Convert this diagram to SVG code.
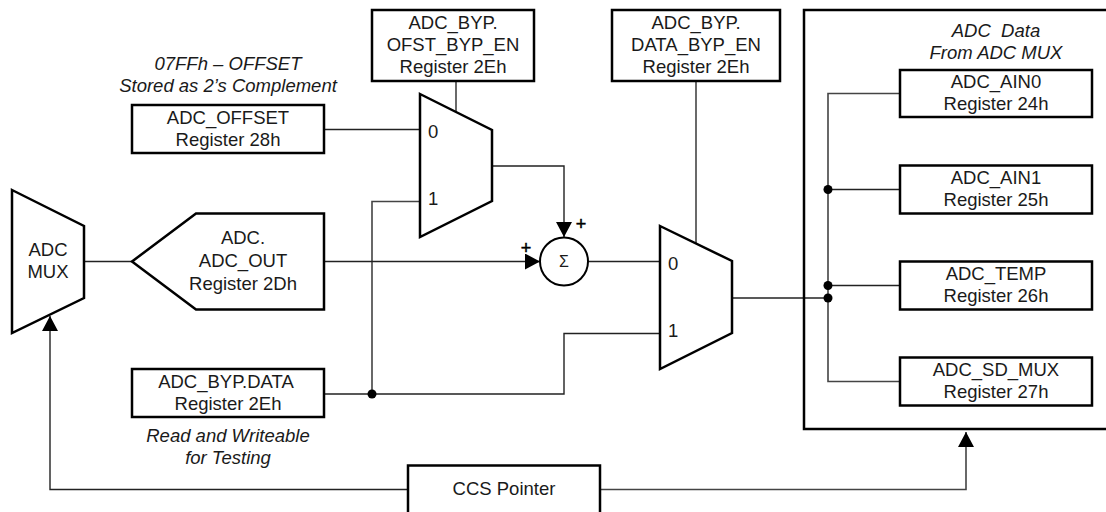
<svg xmlns="http://www.w3.org/2000/svg" width="1106" height="512" viewBox="0 0 1106 512">
<defs>
<style>
text{font-family:"Liberation Sans",Arial,sans-serif;font-size:18.500px;fill:#1a1a1a;text-anchor:middle}
.i{font-style:italic}
.s{text-anchor:start}
.p{font-size:18px;fill:#000;stroke:#000;stroke-width:0.500}
.n{fill:#fff;stroke:#000;stroke-width:2.500;stroke-linejoin:miter}
.w{fill:none;stroke:#222;stroke-width:1.400}
.g{fill:none;stroke:#444;stroke-width:1.600}
.d{fill:#000}
</style>
<marker id="a" markerUnits="userSpaceOnUse" markerWidth="16" markerHeight="16" viewBox="0 0 16 16" refX="15" refY="8" orient="auto"><path d="M0 0L15 8L0 16Z" fill="#000"/></marker>
</defs>
<g id="connectors">
<path class="g" d="M456 81V112"/>
<path class="g" d="M696 81V243"/>
<path class="w" d="M324 129.500H420"/>
<path class="g" d="M420 201.500H372V394"/>
<path class="w" d="M492 166H564V237" marker-end="url(#a)"/>
<path class="w" d="M84 261.500H132"/>
<path class="w" d="M324 261.500H540" marker-end="url(#a)"/>
<path class="w" d="M588 261.500H660"/>
<path class="w" d="M324 394H564V333.500H660"/>
<path class="w" d="M732 298H828"/>
<path class="g" d="M900 93.500H828V381.500H900"/>
<path class="w" d="M828 189.500H900"/>
<path class="w" d="M828 285.500H900"/>
<path class="w" d="M408 489.500H50V316" marker-end="url(#a)"/>
<path class="g" d="M600 489.500H966V432" marker-end="url(#a)"/>
<circle class="d" cx="372" cy="394" r="4.500"/>
<circle class="d" cx="828" cy="189.500" r="4.500"/>
<circle class="d" cx="828" cy="285.500" r="4.500"/>
<circle class="d" cx="828" cy="298" r="4.500"/>
</g>
<g id="note-offset"><text class="i" x="228" y="70">07FFh – OFFSET</text><text class="i" x="228" y="92">Stored as 2’s Complement</text></g>
<g id="note-test"><text class="i" x="228" y="442">Read and Writeable</text><text class="i" x="228" y="464">for Testing</text></g>
<g id="ofst-byp-en"><rect class="n" x="372" y="10" width="162" height="71"/><text x="453" y="29">ADC_BYP.</text><text x="453" y="51">OFST_BYP_EN</text><text x="453" y="73">Register 2Eh</text></g>
<g id="data-byp-en"><rect class="n" x="612" y="10" width="168" height="71"/><text x="696" y="29">ADC_BYP.</text><text x="696" y="51">DATA_BYP_EN</text><text x="696" y="73">Register 2Eh</text></g>
<g id="adc-offset"><rect class="n" x="132" y="105" width="192" height="48"/><text x="228" y="124">ADC_OFFSET</text><text x="228" y="146">Register 28h</text></g>
<g id="adc-byp-data"><rect class="n" x="132" y="369" width="192" height="48"/><text x="226" y="388">ADC_BYP.DATA</text><text x="228" y="410">Register 2Eh</text></g>
<g id="adc-mux"><path class="n" d="M12 190L84 226V298L12 333Z"/><text x="48" y="256">ADC</text><text x="48" y="278">MUX</text></g>
<g id="adc-out"><path class="n" d="M132 261.500L196 213.500H324V309.500H196Z"/><text x="243" y="244">ADC.</text><text x="243" y="267">ADC_OUT</text><text x="243" y="290">Register 2Dh</text></g>
<g id="mux-offset"><path class="n" d="M420 94L492 130V201L420 237Z"/><text class="s" x="428" y="138">0</text><text class="s" x="428" y="205">1</text></g>
<g id="sum"><circle class="n" cx="564" cy="261.500" r="24" style="stroke-width:2"/><text x="564" y="267" style="font-size:16px">Σ</text></g>
<text class="p" x="526" y="254">+</text>
<text class="p" x="581" y="230">+</text>
<g id="mux-data"><path class="n" d="M660 226L732 261V333L660 369Z"/><text class="s" x="668" y="270">0</text><text class="s" x="668" y="337">1</text></g>
<g id="ccs-pointer"><rect class="n" x="408" y="465.500" width="192" height="48"/><text x="504" y="495">CCS Pointer</text></g>
<g id="adc-data"><path class="n" style="fill:none" d="M1108 10H804V429H1108"/><text class="i" x="996" y="37" xml:space="preserve">ADC  Data</text><text class="i" x="996" y="59">From ADC MUX</text></g>
<g id="adc-ain0"><rect class="n" x="900" y="70" width="192" height="47"/><text x="996" y="88">ADC_AIN0</text><text x="996" y="110">Register 24h</text></g>
<g id="adc-ain1"><rect class="n" x="900" y="165.500" width="192" height="48"/><text x="996" y="184">ADC_AIN1</text><text x="996" y="206">Register 25h</text></g>
<g id="adc-temp"><rect class="n" x="900" y="261.500" width="192" height="48"/><text x="996" y="280">ADC_TEMP</text><text x="996" y="302">Register 26h</text></g>
<g id="adc-sd-mux"><rect class="n" x="900" y="357.500" width="192" height="48"/><text x="996" y="376">ADC_SD_MUX</text><text x="996" y="398">Register 27h</text></g>
</svg>
